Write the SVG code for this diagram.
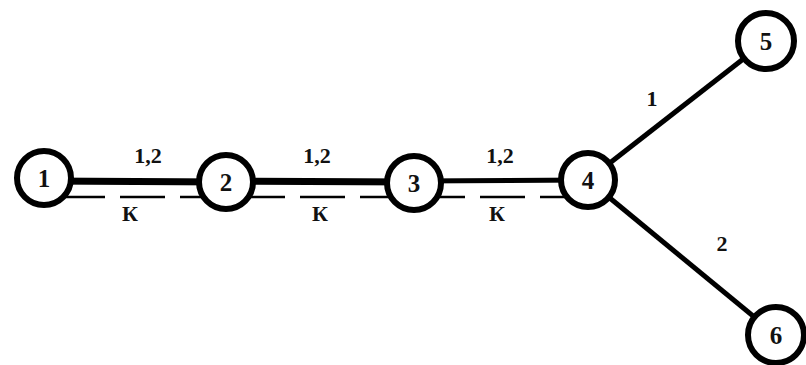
<svg xmlns="http://www.w3.org/2000/svg" width="806" height="365" viewBox="0 0 806 365">
<style>
.node circle{fill:#fff;stroke:#000;stroke-width:6}
.node text{font-family:"Liberation Serif",serif;font-weight:bold;font-size:25px;text-anchor:middle;dominant-baseline:central;fill:#111}
.lbl{font-family:"Liberation Serif",serif;font-weight:bold;font-size:22px;text-anchor:middle;fill:#111}
.solid{stroke:#000;fill:none}
.dash{stroke:#000;stroke-width:2.5;stroke-dasharray:45 15;fill:none}
</style>
<rect width="806" height="365" fill="#fff"/>
<g id="connectors">
<line class="dash" x1="60" y1="197" x2="565" y2="197"/>
<line class="solid" stroke-width="7" x1="45" y1="181" x2="226" y2="182"/>
<line class="solid" stroke-width="7" x1="226" y1="181" x2="414" y2="182"/>
<line class="solid" stroke-width="5" x1="414" y1="181" x2="588" y2="180"/>
<line class="solid" stroke-width="5" x1="588" y1="180" x2="765" y2="42"/>
<line class="solid" stroke-width="5" x1="588" y1="180" x2="776" y2="335"/>
<text class="lbl" x="148" y="163">1,2</text>
<text class="lbl" x="317" y="163">1,2</text>
<text class="lbl" x="500" y="163">1,2</text>
<text class="lbl" x="130" y="221">К</text>
<text class="lbl" x="320" y="221">К</text>
<text class="lbl" x="497" y="221">К</text>
<text class="lbl" x="652" y="106">1</text>
<text class="lbl" x="722" y="251">2</text>
</g>
<g id="n1" class="node"><circle cx="44" cy="178" r="27"/><text x="44" y="178">1</text></g>
<g id="n2" class="node"><circle cx="226" cy="182" r="27"/><text x="226" y="182">2</text></g>
<g id="n3" class="node"><circle cx="414" cy="183" r="27"/><text x="414" y="183">3</text></g>
<g id="n4" class="node"><circle cx="588" cy="180" r="27"/><text x="588" y="180">4</text></g>
<g id="n5" class="node"><circle cx="766" cy="41" r="28"/><text x="766" y="41">5</text></g>
<g id="n6" class="node"><circle cx="776" cy="335" r="28"/><text x="776" y="335">6</text></g>
</svg>
